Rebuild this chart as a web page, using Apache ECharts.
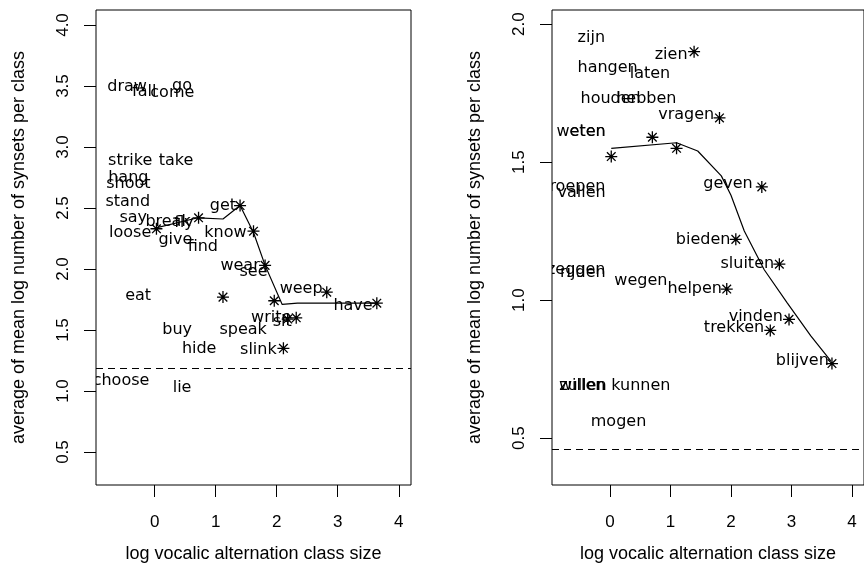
<!DOCTYPE html>
<html>
<head>
<meta charset="utf-8">
<script src="https://cdn.jsdelivr.net/npm/echarts@6/dist/echarts.min.js"></script>
<style>
  html, body { margin: 0; padding: 0; background: #fff; }
  #main { width: 864px; height: 578px; }
</style>
</head>
<body>
<div id="main"></div>
<script>
// English panel
const enWords = ["draw", "fall", "come", "go", "strike", "take", "hang", "shoot", "stand", "say",
  "break", "fly", "loose", "give", "find", "get", "know", "wear", "see", "eat",
  "weep", "have", "write", "sit", "buy", "speak", "hide", "slink", "choose", "lie"];
const enWordX = [-0.45, -0.17, 0.29, 0.45, -0.40, 0.35, -0.43, -0.43, -0.44, -0.35,
  0.22, 0.48, -0.40, 0.34, 0.79, 1.12, 1.16, 1.40, 1.62, -0.27,
  2.40, 3.25, 1.91, 2.09, 0.37, 1.45, 0.73, 1.70, -0.55, 0.45];
const enWordY = [3.49, 3.45, 3.44, 3.50, 2.89, 2.89, 2.75, 2.70, 2.55, 2.42,
  2.39, 2.38, 2.30, 2.24, 2.18, 2.52, 2.30, 2.03, 1.98, 1.78,
  1.84, 1.70, 1.60, 1.57, 1.50, 1.50, 1.35, 1.34, 1.08, 1.03];
const enPointX = [0.03, 0.72, 1.40, 1.62, 1.81, 1.12, 1.96, 2.82, 3.64, 2.18, 2.32, 2.11];
const enPointY = [2.33, 2.42, 2.52, 2.31, 2.03, 1.77, 1.74, 1.81, 1.72, 1.59, 1.60, 1.35];
const enLineX = [0.04, 0.71, 1.12, 1.40, 1.62, 1.81, 2.09, 2.34, 3.65];
const enLineY = [2.34, 2.42, 2.41, 2.52, 2.30, 2.03, 1.71, 1.72, 1.72];
const enCutoff = 1.19;
const enYTicks = [0.5, 1.0, 1.5, 2.0, 2.5, 3.0, 3.5, 4.0];

// Dutch panel
const nlWords = ["zijn", "zien", "hangen", "laten", "houden", "hebben", "vragen", "weten", "eten", "roepen",
  "vallen", "geven", "bieden", "sluiten", "helpen", "wegen", "zeggen", "rijden", "vinden", "trekken",
  "blijven", "zullen", "willen", "kunnen", "mogen"];
const nlWordX = [-0.31, 1.01, -0.04, 0.66, 0.01, 0.60, 1.26, -0.48, -0.37, -0.54,
  -0.47, 1.95, 1.54, 2.27, 1.40, 0.51, -0.56, -0.45, 2.41, 2.05,
  3.18, -0.45, -0.46, 0.51, 0.14];
const nlWordY = [1.95, 1.89, 1.84, 1.82, 1.73, 1.73, 1.67, 1.61, 1.61, 1.41,
  1.39, 1.42, 1.22, 1.13, 1.04, 1.07, 1.11, 1.10, 0.94, 0.90,
  0.78, 0.69, 0.69, 0.69, 0.56];
const nlPointX = [0.02, 0.70, 1.10, 1.39, 1.81, 2.51, 2.08, 2.80, 1.93, 2.96, 2.65, 3.67];
const nlPointY = [1.52, 1.59, 1.55, 1.90, 1.66, 1.41, 1.22, 1.13, 1.04, 0.93, 0.89, 0.77];
const nlLineX = [0.02, 1.10, 1.45, 1.84, 2.00, 2.22, 2.55, 2.93, 3.32, 3.65];
const nlLineY = [1.55, 1.57, 1.54, 1.45, 1.38, 1.25, 1.11, 0.99, 0.87, 0.78];
const nlCutoff = 0.463;
const nlYTicks = [0.5, 1.0, 1.5, 2.0];

const xTicks = [0, 1, 2, 3, 4];
const xTitle = "log vocalic alternation class size";
const yTitle = "average of mean log number of synsets per class";

const asterisk = "path://M0,-1L0,1M-1,0L1,0M-0.72,-0.72L0.72,0.72M-0.72,0.72L0.72,-0.72";
const axisFont = "Liberation Sans";

let dom = document.getElementById("main");
let myChart = echarts.init(dom, null, { renderer: "canvas" });

function zip(xs, ys) {
  return xs.map((x, i) => [x, ys[i]]);
}

function xAxisFor(idx) {
  return {
    type: "value", gridIndex: idx, min: -0.96, max: 4.2,
    axisLine: { show: false, onZero: false },
    splitLine: { show: false },
    axisTick: { show: true, length: 12, customValues: xTicks, lineStyle: { color: "#000" } },
    axisLabel: {
      customValues: xTicks, margin: 29, color: "#000",
      fontFamily: axisFont, fontSize: 17
    },
    name: xTitle, nameLocation: "middle", nameGap: 60,
    nameTextStyle: { color: "#000", fontFamily: axisFont, fontSize: 18 }
  };
}

function yAxisFor(idx, min, max, ticks) {
  return {
    type: "value", gridIndex: idx, min: min, max: max,
    axisLine: { show: false, onZero: false },
    splitLine: { show: false },
    axisTick: { show: true, length: 12, customValues: ticks, lineStyle: { color: "#000" } },
    axisLabel: {
      customValues: ticks, rotate: 90, margin: 24, color: "#000",
      fontFamily: axisFont, fontSize: 17,
      formatter: (v) => v.toFixed(1)
    },
    name: yTitle, nameLocation: "middle", nameGap: 68,
    nameTextStyle: { color: "#000", fontFamily: axisFont, fontSize: 18 }
  };
}

function wordSeries(idx, words, xs, ys) {
  return {
    type: "custom", xAxisIndex: idx, yAxisIndex: idx, clip: true,
    data: zip(xs, ys),
    renderItem: (params, api) => {
      const p = api.coord([api.value(0), api.value(1)]);
      return {
        type: "text", x: p[0], y: p[1],
        style: {
          text: words[params.dataIndex], fill: "#000",
          font: '16px "DejaVu Sans"', align: "center", verticalAlign: "middle"
        }
      };
    }
  };
}

function pointSeries(idx, xs, ys) {
  return {
    type: "scatter", xAxisIndex: idx, yAxisIndex: idx,
    symbol: asterisk, symbolSize: 12,
    itemStyle: { color: "#000", borderColor: "#000", borderWidth: 1.3, opacity: 1 },
    data: zip(xs, ys)
  };
}

function lineSeries(idx, xs, ys, cutoff) {
  return {
    type: "line", xAxisIndex: idx, yAxisIndex: idx,
    showSymbol: false, smooth: false,
    lineStyle: { color: "#000", width: 1.2 },
    data: zip(xs, ys),
    markLine: {
      silent: true, symbol: ["none", "none"], label: { show: false },
      lineStyle: { color: "#000", width: 1.2, type: [7, 5] },
      data: [{ yAxis: cutoff }]
    }
  };
}

let option = {
  backgroundColor: "#fff",
  animation: false,
  grid: [
    { left: 96, top: 10, width: 315, height: 475, show: true, borderColor: "#000", borderWidth: 1, backgroundColor: "transparent" },
    { left: 552, top: 10, width: 315, height: 475, show: true, borderColor: "#000", borderWidth: 1, backgroundColor: "transparent" }
  ],
  xAxis: [xAxisFor(0), xAxisFor(1)],
  yAxis: [
    yAxisFor(0, 0.23, 4.123, enYTicks),
    yAxisFor(1, 0.33, 2.051, nlYTicks)
  ],
  series: [
    wordSeries(0, enWords, enWordX, enWordY),
    pointSeries(0, enPointX, enPointY),
    lineSeries(0, enLineX, enLineY, enCutoff),
    wordSeries(1, nlWords, nlWordX, nlWordY),
    pointSeries(1, nlPointX, nlPointY),
    lineSeries(1, nlLineX, nlLineY, nlCutoff)
  ]
};

if (option && typeof option === "object") {
  myChart.setOption(option);
}

window.addEventListener("resize", myChart.resize);
</script>
</body>
</html>
